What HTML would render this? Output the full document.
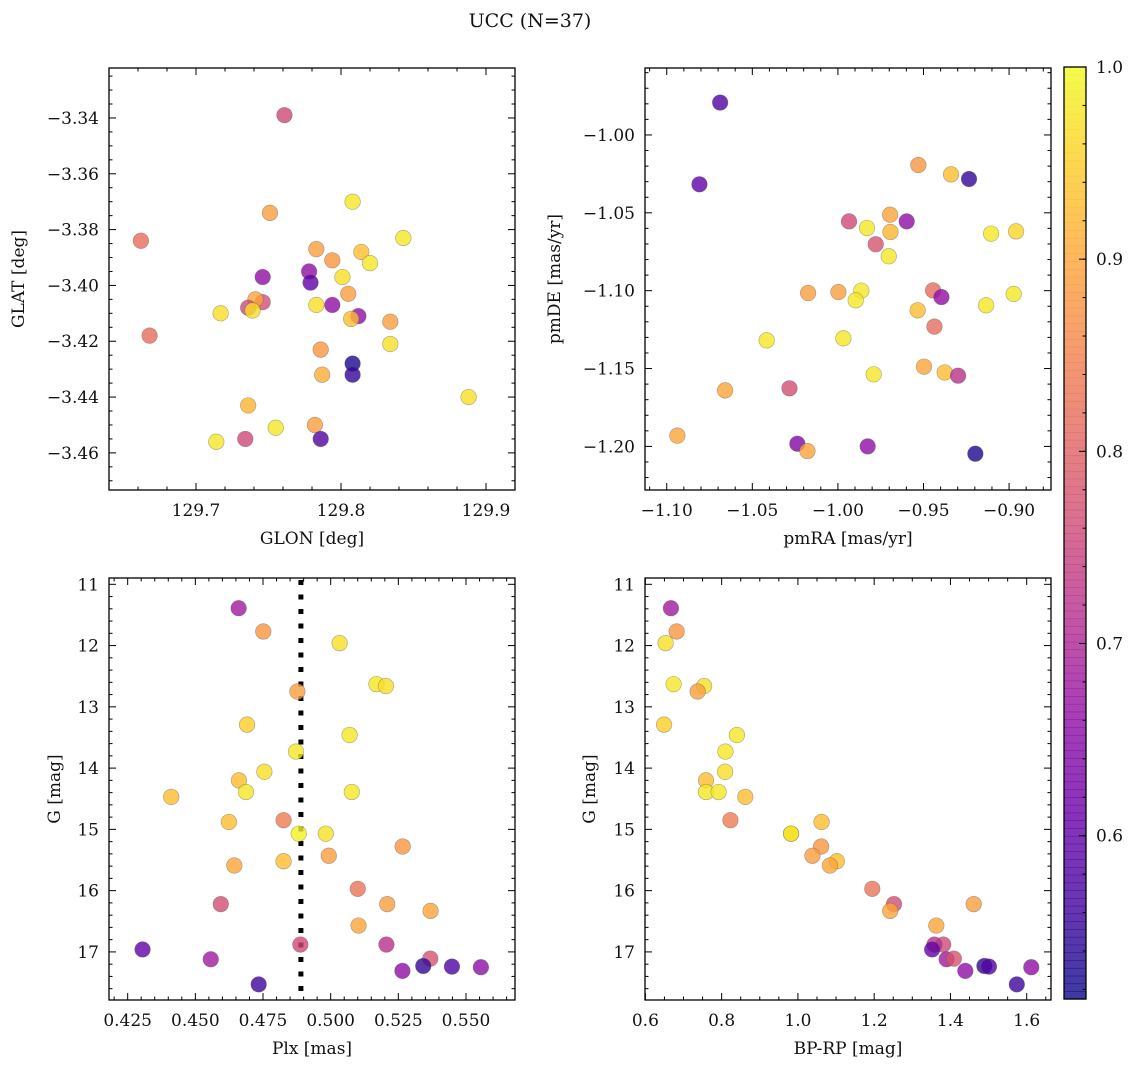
<!DOCTYPE html>
<html><head><meta charset="utf-8"><style>
html,body{margin:0;padding:0;background:#fff}
svg text{font-family:"DejaVu Serif","Liberation Serif",serif;fill:#111}
</style></head><body>
<svg id="fig" width="1136" height="1067" viewBox="0 0 1136 1067" xmlns="http://www.w3.org/2000/svg">
<rect width="1136" height="1067" fill="#fff"/>
<text x="530" y="27" font-size="19" text-anchor="middle">UCC (N=37)</text>
</svg>
<script>
// ---- Data ----
const glon = [129.761,129.662,129.668,129.751,129.808,129.843,129.783,129.794,129.814,129.820,129.801,129.778,129.779,129.746,129.746,129.741,129.736,129.739,129.717,129.783,129.805,129.794,129.812,129.807,129.834,129.834,129.786,129.808,129.808,129.787,129.888,129.736,129.755,129.782,129.786,129.734,129.714];
const glat = [-3.339,-3.384,-3.418,-3.374,-3.370,-3.383,-3.387,-3.391,-3.388,-3.392,-3.397,-3.395,-3.399,-3.397,-3.406,-3.405,-3.408,-3.409,-3.410,-3.407,-3.403,-3.407,-3.411,-3.412,-3.413,-3.421,-3.423,-3.428,-3.432,-3.432,-3.440,-3.443,-3.451,-3.450,-3.455,-3.455,-3.456];
const probPos = [0.76,0.82,0.82,0.89,0.98,0.98,0.89,0.88,0.93,0.98,0.97,0.66,0.6,0.66,0.77,0.9,0.76,0.97,0.97,0.97,0.89,0.66,0.66,0.93,0.89,0.97,0.88,0.53,0.55,0.91,0.97,0.92,0.98,0.89,0.58,0.76,0.98];
const pmra = [-1.0688,-1.0809,-0.9530,-0.9339,-0.9234,-0.9695,-0.9935,-0.9598,-0.9830,-0.9693,-0.9779,-0.9703,-0.9105,-0.8959,-1.0174,-0.9997,-0.9863,-0.9896,-0.9444,-0.9395,-0.9534,-0.9134,-0.8973,-0.9436,-1.0416,-0.9968,-0.9497,-0.9376,-0.9298,-0.9791,-1.0659,-1.0283,-1.0938,-1.0237,-1.0178,-0.9826,-0.9197];
const pmde = [-0.9792,-1.0317,-1.0193,-1.0253,-1.0283,-1.0512,-1.0555,-1.0555,-1.0597,-1.0623,-1.0702,-1.0779,-1.0634,-1.0619,-1.1015,-1.1009,-1.1000,-1.1062,-1.0998,-1.1041,-1.1126,-1.1094,-1.1021,-1.1231,-1.1319,-1.1306,-1.1488,-1.1525,-1.1546,-1.1537,-1.1640,-1.1627,-1.1931,-1.1983,-1.2030,-1.2000,-1.2047];
const probPM = [0.58,0.6,0.88,0.93,0.55,0.9,0.76,0.66,0.98,0.92,0.78,0.98,0.98,0.96,0.89,0.89,0.98,0.98,0.82,0.66,0.93,0.98,0.98,0.82,0.98,0.98,0.9,0.93,0.72,0.98,0.9,0.77,0.9,0.64,0.9,0.66,0.53];
const plx = [0.4660,0.4751,0.5033,0.5169,0.5204,0.4877,0.4691,0.5070,0.4872,0.4755,0.4661,0.4687,0.5078,0.4411,0.4624,0.4826,0.4882,0.4982,0.5266,0.4993,0.4826,0.4644,0.5100,0.4594,0.5209,0.5369,0.5103,0.4888,0.5206,0.4305,0.4557,0.5368,0.5342,0.5448,0.5555,0.5265,0.4734];
const gmag = [11.39,11.77,11.96,12.63,12.66,12.75,13.29,13.46,13.73,14.06,14.20,14.39,14.39,14.47,14.88,14.85,15.07,15.07,15.28,15.43,15.52,15.59,15.97,16.22,16.22,16.33,16.57,16.88,16.88,16.96,17.12,17.11,17.23,17.24,17.25,17.31,17.53];
const bprp = [0.667,0.682,0.653,0.674,0.754,0.737,0.649,0.840,0.810,0.809,0.759,0.759,0.792,0.862,1.062,0.823,0.982,0.982,1.061,1.038,1.102,1.084,1.195,1.252,1.461,1.242,1.363,1.381,1.358,1.352,1.390,1.409,1.489,1.501,1.612,1.439,1.574];
const probCMD = [0.68,0.88,0.97,0.98,0.97,0.89,0.95,0.98,0.98,0.97,0.93,0.98,0.98,0.93,0.93,0.84,0.99,0.97,0.88,0.89,0.93,0.9,0.83,0.77,0.89,0.9,0.9,0.76,0.72,0.6,0.68,0.78,0.55,0.58,0.66,0.66,0.56];
const plxLine = 0.489;
const cbTicks = [0.6,0.7,0.8,0.9,1.0];
const cbMin = 0.515, cbMax = 1.0;

const NS = "http://www.w3.org/2000/svg";
const svg = document.getElementById('fig');
function mk(tag, attrs, parent){const e=document.createElementNS(NS,tag);for(const k in attrs)e.setAttribute(k,attrs[k]);(parent||svg).appendChild(e);return e;}

const stops=["#0d0887","#41049d","#6a00a8","#8f0da4","#b12a90","#cc4778","#e16462","#f2844b","#fca636","#fcce25","#f0f921"];
function hex(h){return [parseInt(h.slice(1,3),16),parseInt(h.slice(3,5),16),parseInt(h.slice(5,7),16)];}
function plasma(t){t=Math.max(0,Math.min(1,t));const p=t*10,i=Math.min(9,Math.floor(p)),f=p-i;const a=hex(stops[i]),b=hex(stops[i+1]);return `rgb(${a.map((v,k)=>Math.round(v+(b[k]-v)*f)).join(',')})`;}
function col(p){return plasma((p-cbMin)/(cbMax-cbMin));}

function fmt(v,d){const s=Math.abs(v).toFixed(d);return (v<0?"\u2212":"")+s;}

function panel(cfg){
  const g=mk('g',{});
  
  
  const {x0,x1,y0,y1,xmin,xmax,ymin,ymax,invY}=cfg;
  const sx=v=>x0+(v-xmin)/(xmax-xmin)*(x1-x0);
  const sy=v=>invY? y0+(v-ymin)/(ymax-ymin)*(y1-y0) : y1-(v-ymin)/(ymax-ymin)*(y1-y0);
  const tk=mk('g',{stroke:'#000','stroke-width':1},g);
  
  
  const eps=1e-9;
  for(let v=Math.ceil(xmin/cfg.xminor-eps)*cfg.xminor; v<=xmax+eps; v+=cfg.xminor){
    const X=sx(v); const maj=Math.abs(v/cfg.xmajor-Math.round(v/cfg.xmajor))<1e-6; const L=maj?7:3.5;
    mk('line',{x1:X,x2:X,y1:y1,y2:y1-L},tk); mk('line',{x1:X,x2:X,y1:y0,y2:y0+L},tk);
    if(maj){const t=mk('text',{x:X,y:y1+26,'font-size':17,'text-anchor':'middle'},g);t.textContent=fmt(v,cfg.xdec);
      
      }
  }
  for(let v=Math.ceil(ymin/cfg.yminor-eps)*cfg.yminor; v<=ymax+eps; v+=cfg.yminor){
    const Y=sy(v); const maj=Math.abs(v/cfg.ymajor-Math.round(v/cfg.ymajor))<1e-6; const L=maj?7:3.5;
    mk('line',{x1:x0,x2:x0+L,y1:Y,y2:Y},tk); mk('line',{x1:x1,x2:x1-L,y1:Y,y2:Y},tk);
    if(maj){const t=mk('text',{x:x0-10,y:Y+6,'font-size':17,'text-anchor':'end'},g);t.textContent=fmt(v,cfg.ydec);
      
      }
  }
  const xl=mk('text',{x:(x0+x1)/2,y:y1+54,'font-size':17,'text-anchor':'middle'},g);xl.textContent=cfg.xlabel;
  
  
  const yx=cfg.ylabx, yc=(y0+y1)/2;
  const yl=mk('text',{x:yx,y:yc,'font-size':17,'text-anchor':'middle',transform:`rotate(-90 ${yx} ${yc})`},g);yl.textContent=cfg.ylabel;
  
  
  if(cfg.extra) cfg.extra(g,sx,sy);
  const pts=mk('g',{},g);
  
  
  for(let i=0;i<cfg.xs.length;i++){
    const c=mk('circle',{cx:sx(cfg.xs[i]),cy:sy(cfg.ys[i]),r:7.8,fill:col(cfg.ps[i]),'fill-opacity':0.8,stroke:'#555','stroke-opacity':0.5,'stroke-width':0.6},pts);
    
    
  }
  const fr=mk('rect',{x:x0,y:y0,width:x1-x0,height:y1-y0,fill:'none',stroke:'#000','stroke-width':1.3},g);
  
  
}

panel({name:'glon-glat-panel',x0:109,x1:515,y0:68,y1:490,xmin:129.640,xmax:129.920,ymin:-3.4733,ymax:-3.3221,
  xminor:0.02,xmajor:0.1,xdec:1,yminor:0.005,ymajor:0.02,ydec:2,xlabel:'GLON [deg]',ylabel:'GLAT [deg]',ylabx:24,
  xs:glon,ys:glat,ps:probPos});
panel({name:'pm-panel',x0:645,x1:1051,y0:68,y1:490,xmin:-1.1127,xmax:-0.8755,ymin:-1.228,ymax:-0.957,
  xminor:0.01,xmajor:0.05,xdec:2,yminor:0.01,ymajor:0.05,ydec:2,xlabel:'pmRA [mas/yr]',ylabel:'pmDE [mas/yr]',ylabx:560,
  xs:pmra,ys:pmde,ps:probPM});
panel({name:'plx-g-panel',x0:109,x1:515,y0:578,y1:1000,xmin:0.4181,xmax:0.5681,ymin:10.897,ymax:17.785,invY:true,
  xminor:0.005,xmajor:0.025,xdec:3,yminor:0.2,ymajor:1,ydec:0,xlabel:'Plx [mas]',ylabel:'G [mag]',ylabx:60,
  xs:plx,ys:gmag,ps:probCMD,
  extra:(g,sx,sy)=>{const l=mk('line',{x1:sx(plxLine),x2:sx(plxLine),y1:580,y2:1000,stroke:'#000','stroke-width':5,'stroke-dasharray':'5 9.5'},g);
    
    }});
panel({name:'cmd-panel',x0:645,x1:1051,y0:578,y1:1000,xmin:0.599,xmax:1.6637,ymin:10.897,ymax:17.785,invY:true,
  xminor:0.05,xmajor:0.2,xdec:1,yminor:0.2,ymajor:1,ydec:0,xlabel:'BP-RP [mag]',ylabel:'G [mag]',ylabx:595,
  xs:bprp,ys:gmag,ps:probCMD});

(function(){
  const cx0=1064,cx1=1086,cy0=67,cy1=999;
  const g=mk('g',{});
  
  
  const n=120;
  for(let i=0;i<n;i++){
    const v=cbMin+(cbMax-cbMin)*(i+0.5)/n;
    const yA=cy1-(i+1)/n*(cy1-cy0), yB=cy1-i/n*(cy1-cy0);
    mk('rect',{x:cx0,y:yA,width:cx1-cx0,height:yB-yA+0.6,fill:col(v),'fill-opacity':0.8},g);
  }
  const sy=v=>cy1-(v-cbMin)/(cbMax-cbMin)*(cy1-cy0);
  for(let v=0.52; v<=1.0001; v+=0.02){mk('line',{x1:cx1,x2:cx1-3.5,y1:sy(v),y2:sy(v),stroke:'#000'},g);}
  cbTicks.forEach(v=>{mk('line',{x1:cx1,x2:cx1-7,y1:sy(v),y2:sy(v),stroke:'#000'},g);
    const t=mk('text',{x:cx1+10,y:sy(v)+6,'font-size':17},g);t.textContent=v.toFixed(1);
    
    });
  mk('rect',{x:cx0,y:cy0,width:cx1-cx0,height:cy1-cy0,fill:'none',stroke:'#000','stroke-width':1.3},g);
})();
</script>
</body></html>
